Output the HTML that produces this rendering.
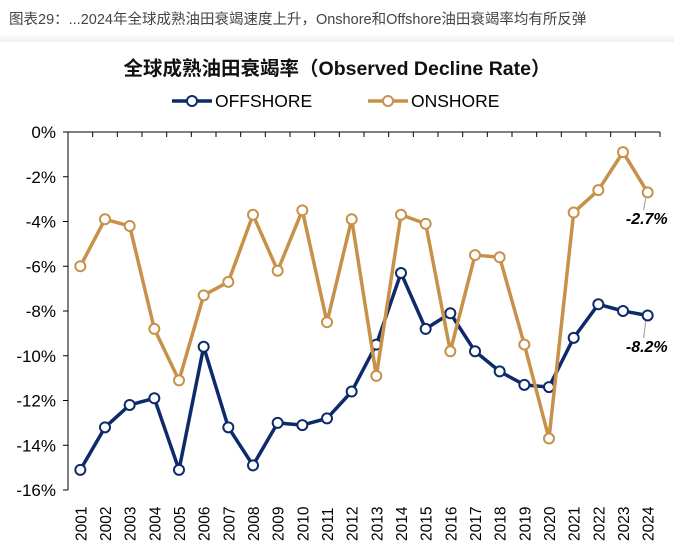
<!DOCTYPE html>
<html><head><meta charset="utf-8"><style>
body{margin:0;width:674px;height:551px;background:#fff;overflow:hidden;font-family:"Liberation Sans","Noto Sans CJK SC",sans-serif}
#hdr{position:absolute;left:0;top:0;width:674px;height:42px;background:linear-gradient(#fff,#fff 80%,#f0f0f0)}
#hdr span{position:absolute;left:9px;top:8px;font-size:14.5px;color:#444}
</style></head><body>
<div id="hdr"><span>图表29：...2024年全球成熟油田衰竭速度上升，Onshore和Offshore油田衰竭率均有所反弹</span></div>
<svg id="c" width="674" height="551" style="position:absolute;left:0;top:0"></svg>
<script>
const years=["2001","2002","2003","2004","2005","2006","2007","2008","2009","2010","2011","2012","2013","2014","2015","2016","2017","2018","2019","2020","2021","2022","2023","2024"];
const offshore=[-15.1,-13.2,-12.2,-11.9,-15.1,-9.6,-13.2,-14.9,-13.0,-13.1,-12.8,-11.6,-9.5,-6.3,-8.8,-8.1,-9.8,-10.7,-11.3,-11.4,-9.2,-7.7,-8.0,-8.2];
const onshore=[-6.0,-3.9,-4.2,-8.8,-11.1,-7.3,-6.7,-3.7,-6.2,-3.5,-8.5,-3.9,-10.9,-3.7,-4.1,-9.8,-5.5,-5.6,-9.5,-13.7,-3.6,-2.6,-0.9,-2.7];
const yTicks=[0,-2,-4,-6,-8,-10,-12,-14,-16];
const NS="http://www.w3.org/2000/svg",svg=document.getElementById('c');
const L=68,R=660,T=132,B=490,bw=(R-L)/years.length;
const x=i=>L+bw*(i+0.5), y=v=>T+(0-v)/16*(B-T);
function mk(t,a,p){const e=document.createElementNS(NS,t);for(const k in a)e.setAttribute(k,a[k]);(p||svg).appendChild(e);return e;}
let e=mk('text',{x:337,y:75,'text-anchor':'middle','font-size':19.5,'font-weight':'bold',fill:'#111'});e.textContent='全球成熟油田衰竭率（Observed Decline Rate）';

e=mk('line',{x1:L,y1:T,x2:R,y2:T,stroke:'#000','stroke-width':1});
e=mk('line',{x1:L,y1:T,x2:L,y2:B,stroke:'#000','stroke-width':1});
for(let i=0;i<=years.length;i++){e=mk('line',{x1:L+bw*i,y1:T,x2:L+bw*i,y2:T+5,stroke:'#000'});}
yTicks.forEach(v=>{e=mk('line',{x1:L-5,y1:y(v),x2:L,y2:y(v),stroke:'#000'});
 e=mk('text',{x:56,y:y(v)+6,'text-anchor':'end','font-size':17,fill:'#000'});e.textContent=v+'%';});
years.forEach((yr,i)=>{e=mk('text',{transform:`translate(${x(i)+6},541) rotate(-90)`,'font-size':15.5,fill:'#000'});e.textContent=yr;});
function series(d,col,name){const g=mk('g',{});
 e=mk('polyline',{points:d.map((v,i)=>x(i)+','+y(v)).join(' '),fill:'none',stroke:col,'stroke-width':3.5,'stroke-linejoin':'round'},g);
 d.forEach((v,i)=>{e=mk('circle',{cx:x(i),cy:y(v),r:5,fill:'#fff',stroke:col,'stroke-width':2},g);});}
series(offshore,'#0d2a6b','offshore');series(onshore,'#c8914a','onshore');
function leg(x0,col,label,nm){const g=mk('g',{});
 mk('line',{x1:x0,y1:101,x2:x0+40,y2:101,stroke:col,'stroke-width':3.5},g);mk('circle',{cx:x0+20,cy:101,r:5,fill:'#fff',stroke:col,'stroke-width':2},g);
 const t=mk('text',{x:x0+43,y:107,'font-size':17.5,fill:'#000'},g);t.textContent=label;}
leg(172,'#0d2a6b','OFFSHORE','offshore');leg(368,'#c8914a','ONSHORE','onshore');
function lab(v,yy,nm){const n=years.length-1;mk('line',{x1:x(n)-2,y1:y(v)+6,x2:x(n)-4,y2:yy-14,stroke:'#999'});
 e=mk('text',{x:x(n)+20,y:yy,'text-anchor':'end','font-size':16,'font-style':'italic','font-weight':'bold',fill:'#000'});e.textContent=v.toFixed(1)+'%';}
lab(onshore[onshore.length-1],224,'onshore-last-label');lab(offshore[offshore.length-1],352,'offshore-last-label');
</script>
</body></html>
